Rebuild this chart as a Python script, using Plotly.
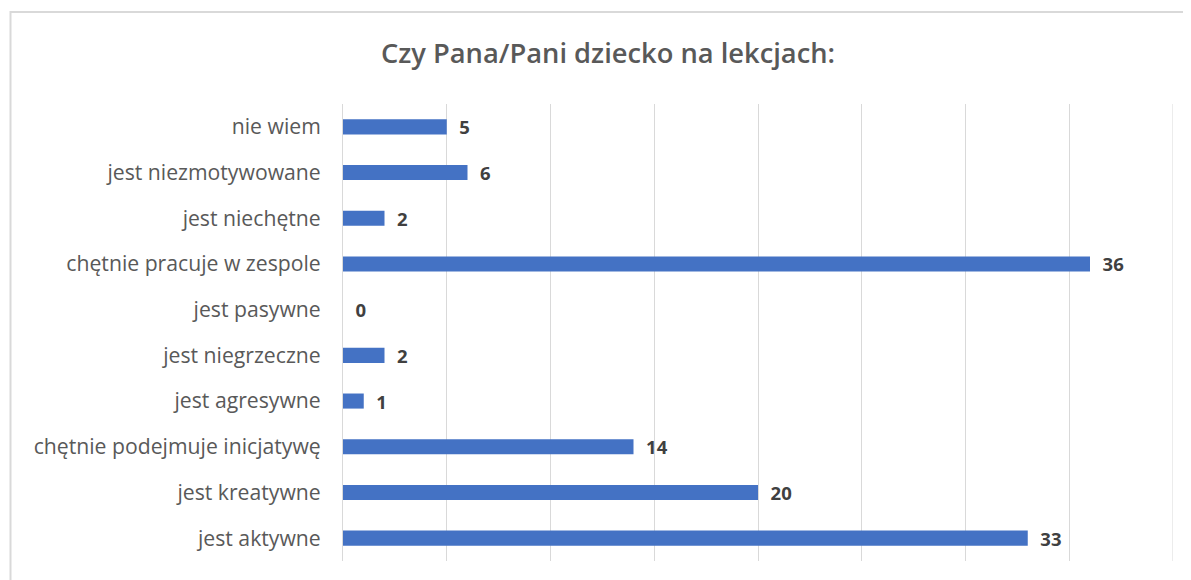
import plotly.graph_objects as go

categories = ["jest aktywne", "jest kreatywne", "chętnie podejmuje inicjatywę",
              "jest agresywne", "jest niegrzeczne", "jest pasywne",
              "chętnie pracuje w zespole", "jest niechętne",
              "jest niezmotywowane", "nie wiem"]
values = [33, 20, 14, 1, 2, 0, 36, 2, 6, 5]
title_text = "Czy Pana/Pani dziecko na lekcjach:"

FONT = "Open Sans"
W, H = 1183, 572  # page has an 8px body margin

fig = go.Figure(go.Bar(
    x=values, y=categories, orientation="h",
    marker=dict(color="#4472C4", line=dict(width=0)),
    width=0.33,
    text=["\u00a0\u00a0" + str(v) for v in values],
    textposition="outside",
    constraintext="none",
    textfont=dict(family=FONT, size=18.5, color="#404040", weight="bold"),
    cliponaxis=False,
))

fig.update_layout(
    width=W, height=H,
    margin=dict(l=335, r=18, t=96, b=19),
    paper_bgcolor="white", plot_bgcolor="white",
    showlegend=False,
    title=dict(text=title_text, x=600 / W, xanchor="center", y=1 - 45 / H,
               xref="container", yanchor="middle", yref="container",
               font=dict(family=FONT, size=27.3, color="#595959", weight=600)),
    xaxis=dict(range=[0, 40], dtick=5, showticklabels=False,
               showgrid=True, gridcolor="#d9d9d9", gridwidth=1,
               zeroline=False, showline=False, fixedrange=True),
    yaxis=dict(showline=True, linecolor="#d9d9d9", linewidth=1,
               ticks="", ticklabelstandoff=17,
               tickfont=dict(family=FONT, size=21.2, color="#595959"),
               showgrid=False, zeroline=False),
    shapes=[dict(type="rect", xref="paper", yref="paper",
                 x0=(2.5 - 335) / 830, x1=1.2, y0=-0.2, y1=1 + (96 - 4) / 457,
                 line=dict(color="#d9d9d9", width=2), fillcolor="rgba(0,0,0,0)",
                 layer="below"),
            dict(type="line", xref="x", yref="paper", x0=40, x1=40, y0=0, y1=1,
                 line=dict(color="#d9d9d9", width=1), layer="below")],
)

fig.write_html("out.html")
